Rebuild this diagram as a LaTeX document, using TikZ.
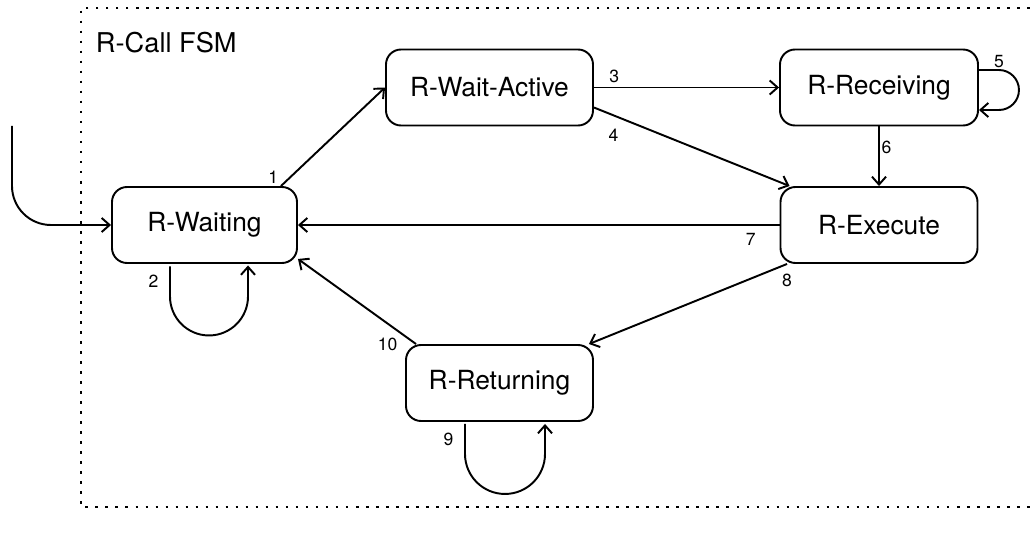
\documentclass[tikz,border=0pt]{standalone}
\usepackage{fontspec}
\setmainfont{TeX Gyre Heros}
\usetikzlibrary{positioning}
\usetikzlibrary{arrows.meta}

\begin{document}
\begin{tikzpicture}[state/.style={
			draw,
			rectangle,
			rounded corners=0.3cm,
			minimum height=1.52cm,
			font=\fontsize{15}{18}\selectfont,
		}, num/.style={inner sep=1pt, font=\fontsize{10}{12}\selectfont},
		line width=1.1pt, >={Straight Barb[length=4.5pt,width=8pt]}]
		\useasboundingbox (0,0) rectangle (20.6,10.7);
		\draw[line width=1.2pt, dash pattern=on 1.5pt off 4.2pt] (20.8,10.54) -- (1.62,10.54) -- (1.62,0.56) -- (20.8,0.56);
		\node[anchor=west, inner sep=0pt, font=\fontsize{15.5}{18}\selectfont] (title) at (1.9,9.84) {R-Call FSM};
		
		\node[state, minimum width=3.70cm] (wait) at (4.09,6.2) {R-Waiting};
		\node[state, minimum width=4.14cm] (active) at (9.79,8.95) {R-Wait-Active};
		\node[state, minimum width=3.96cm] (recv) at (17.58,8.95) {R-Receiving};
		\node[state, minimum width=3.94cm] (exec) at (17.58,6.2) {R-Execute};
		\node[state, minimum width=3.74cm] (ret) at (9.99,3.04) {R-Returning};
		
		\coordinate (start) at (0.24,8.18);
		\draw[->] (start) --++(0,-1.2) arc (180:270:0.78) -- (wait.west);
		
		\draw[->] ([xshift=-0.34cm]wait.north east) -- node[num, pos=0, above left] (l1) {1} (active.west);
		\draw[->] (wait.south)++(-0.69,-0.05) --++(0,-0.6) node[num, midway, left=5pt] (l2) {2} arc (180:360:0.78) --++(0,0.62);
		\draw[->] (active.east) -- node[num, pos=0.11, above=1pt] (l3) {3} (recv.west);
		\draw[->] ([yshift=-0.4cm]active.east) -- node[num, pos=0.1, below=6pt] (l4) {4} ([xshift=0.2cm]exec.north west);
		\draw[->] ([yshift=0.35cm]recv.east) --++(0.4,0) node[num, above] (l5) {5} arc (90:-90:0.4) --++(-0.4,0);
		\draw[->] (recv.south) -- node[num, pos=0.35, right] (l6) {6} (exec.north);
		\draw[->] (exec.west) -- node[num, pos=0.06, below=3pt] (l7) {7} (wait.east);
		\draw[->] ([xshift=0.15cm]exec.south west) -- node[num, pos=0, below=4pt] (l8) {8} ([xshift=-0.1cm]ret.north east);
		\draw[->] (ret.south)++(-0.69,-0.04) --++(0,-0.6) node[num, midway, left=5pt] (l9) {9} arc (180:360:0.8) --++(0,0.6);
		\draw[->] ([xshift=0.22cm]ret.north west) -- node[num, pos=0, left=9pt] (l10) {10} ([yshift=0.1cm]wait.south east);
	\end{tikzpicture}
\end{document}
